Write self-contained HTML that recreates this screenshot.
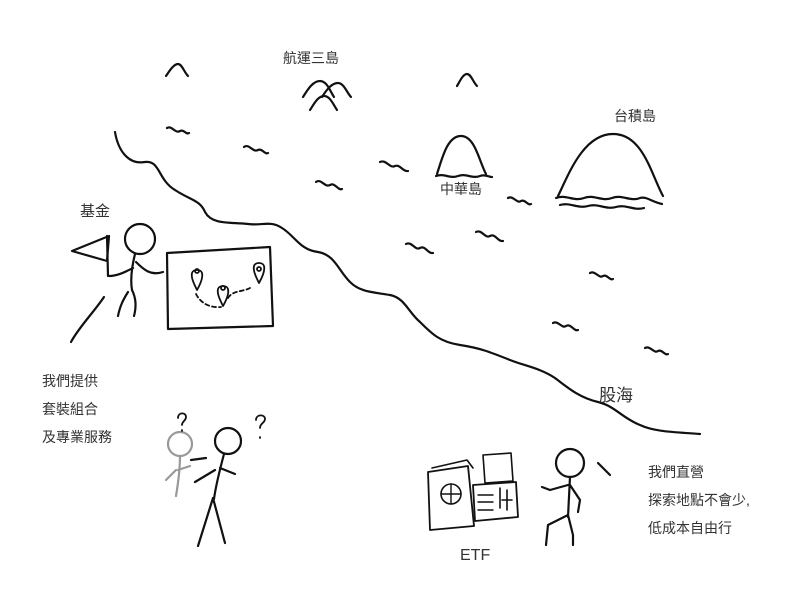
<!DOCTYPE html>
<html><head><meta charset="utf-8"><style>
body{margin:0;background:#fff;}
svg{display:block}
text{font-family:"Liberation Sans","Noto Sans CJK TC",sans-serif;fill:#333}
</style></head><body>
<svg width="800" height="599" viewBox="0 0 800 599" xmlns="http://www.w3.org/2000/svg">
<g fill="none" stroke="#111" stroke-width="2.2" stroke-linecap="round" stroke-linejoin="round">
<!-- coastline -->
<path d="M115,132 C118,150 128,165 145,162 C160,160 158,180 175,190 C190,200 200,200 205,212 C212,225 230,222 248,224 C262,226 270,220 282,228 C295,236 300,250 318,252 C335,255 338,270 350,282 C360,292 372,292 390,295 C405,298 408,312 420,322 C432,334 440,342 460,345 C480,348 490,352 510,360 C525,366 540,368 555,378 C568,388 580,398 598,402 C615,406 622,418 640,425 C655,432 675,432 700,434"/>
<!-- waves -->
<path d="M167,128 c5,-3 8,6 13,3 c4,-2 6,4 9,2"/>
<path d="M244,147 c5,-4 9,6 14,3 c4,-2 7,5 10,3"/>
<path d="M316,182 c5,-4 9,6 14,3 c5,-3 8,6 12,4"/>
<path d="M380,162 c6,-3 10,7 15,4 c5,-2 8,6 13,5"/>
<path d="M406,244 c6,-3 9,7 14,4 c5,-3 8,6 13,5"/>
<path d="M476,232 c6,-3 9,7 14,4 c5,-3 8,6 13,5"/>
<path d="M508,198 c5,-3 9,6 13,3 c4,-2 7,5 10,3"/>
<path d="M590,273 c5,-3 9,6 13,3 c4,-2 7,5 10,3"/>
<path d="M553,323 c5,-3 9,6 13,3 c5,-3 8,6 12,4"/>
<path d="M645,348 c5,-3 9,6 13,3 c4,-2 7,5 10,3"/>
<!-- mountains small -->
<path d="M166,76 c4,-6 8,-12 12,-12 c4,0 6,8 10,12"/>
<path d="M457,86 c3,-5 6,-12 10,-12 c4,0 6,8 10,12"/>
<path d="M303,97 c5,-8 10,-16 17,-16 c7,0 10,10 14,16"/>
<path d="M322,97 c5,-8 10,-14 16,-14 c6,0 9,10 13,14"/>
<path d="M310,110 c4,-6 8,-14 14,-14 c6,0 9,8 13,14"/>
<!-- 中華島 -->
<path d="M437,174 c5,-15 10,-38 24,-38 c14,0 18,25 25,38"/>
<path d="M436,176 c8,-3 14,3 22,0 c8,-3 14,3 22,0 c5,-2 9,1 12,1"/>
<!-- 台積島 -->
<path d="M558,196 c10,-20 25,-62 55,-62 c30,0 38,40 50,62"/>
<path d="M556,198 c10,-4 18,4 28,0 c10,-4 18,4 28,0 c10,-4 18,4 28,0 c6,-2 12,4 22,6"/>
<path d="M560,205 c10,-3 18,4 28,1 c10,-3 18,4 28,1 c10,-3 18,4 28,1"/>
<!-- fund figure -->
<circle cx="140" cy="239" r="15"/>
<path d="M135,254 c-3,12 -5,24 -3,36"/>
<path d="M109,236 l-37,15 l35,10 z"/>
<path d="M107,236 l1,40"/>
<path d="M133,268 c-6,3 -15,8 -24,8"/>
<path d="M136,262 c8,8 15,14 27,10"/>
<path d="M132,290 c3,6 5,15 2,26"/>
<path d="M128,292 c-5,8 -8,14 -10,24"/>
<path d="M104,297 c-10,15 -25,30 -33,45"/>
<!-- map board -->
<path d="M167,253 L270,247 L273,326 L168,329 Z"/>
<g stroke-width="1.8">
<path d="M197,290 c-4,-8 -6,-13 -5,-17 c1,-4 9,-4 10,0 c1,4 -1,10 -5,17z"/><circle cx="197" cy="271" r="2"/>
<path d="M223,306 c-4,-8 -6,-13 -5,-17 c1,-4 9,-4 10,0 c1,4 -1,10 -5,17z"/><circle cx="223" cy="288" r="2"/>
<path d="M259,283 c-4,-8 -6,-13 -5,-17 c1,-4 9,-4 10,0 c1,4 -1,10 -5,17z"/><circle cx="259" cy="269" r="2"/>
<path d="M196,294 c5,10 15,14 25,13" stroke-dasharray="4 3"/>
<path d="M228,298 c5,-8 15,-6 22,-10" stroke-dasharray="4 3"/>
</g>
<!-- confused figures -->
<g stroke="#999"><circle cx="180" cy="444" r="12"/><path d="M180,456 c0,12 -2,28 -4,40 M176,470 l-10,10 M178,470 l12,-4"/></g>
<circle cx="228" cy="441" r="13"/>
<path d="M224,454 c-4,15 -8,30 -10,45 M215,470 l-20,12 M220,468 l15,6 M213,498 l-15,48 M213,498 l12,45 M206,458 l-15,2"/>
<path d="M178,418 c0,-6 8,-6 8,-1 c0,4 -4,4 -4,8 M182,430 l0,1" stroke-width="1.8"/>
<path d="M256,420 c0,-6 9,-6 9,-1 c0,4 -5,4 -5,9 M260,437 l0,1" stroke-width="1.8"/>
<!-- passport -->
<path d="M428,472 l40,-6 l6,60 l-44,4 z" stroke-width="1.8"/>
<path d="M432,468 l35,-8 l6,8" stroke-width="1.6"/>
<circle cx="451" cy="494" r="10" stroke-width="1.6"/>
<path d="M441,494 h20 M451,484 v20" stroke-width="1.4"/>
<path d="M483,455 l28,-2 l2,28 l-28,2 z" stroke-width="1.6"/>
<path d="M473,485 l43,-3 l2,35 l-43,4 z" stroke-width="1.8"/>
<path d="M500,488 v20 M507,490 v20 M502,500 l10,0" stroke-width="1.6"/>
<path d="M478,495 h15 M478,502 h15 M478,510 h15" stroke-width="1.4"/>
<!-- right figure -->
<circle cx="570" cy="463" r="14"/>
<path d="M570,477 l-2,40 M568,485 l-18,5 l-8,-3 M570,485 l10,15 l-2,12 M568,515 l-20,10 l-2,20 M568,515 l5,20 l0,10"/>
<path d="M598,463 l12,12"/>
</g>
<text x="283" y="63" font-size="14">航運三島</text>
<text x="614" y="121" font-size="14">台積島</text>
<text x="440" y="194" font-size="14">中華島</text>
<text x="80" y="216" font-size="15">基金</text>
<text x="42" y="386" font-size="14">我們提供</text>
<text x="42" y="414" font-size="14">套裝組合</text>
<text x="42" y="442" font-size="14">及專業服務</text>
<text x="599" y="401" font-size="17">股海</text>
<text x="648" y="477" font-size="14">我們直營</text>
<text x="648" y="505" font-size="14">探索地點不會少,</text>
<text x="648" y="533" font-size="14">低成本自由行</text>
<text x="460" y="560" font-size="16">ETF</text>
</svg>
</body></html>
